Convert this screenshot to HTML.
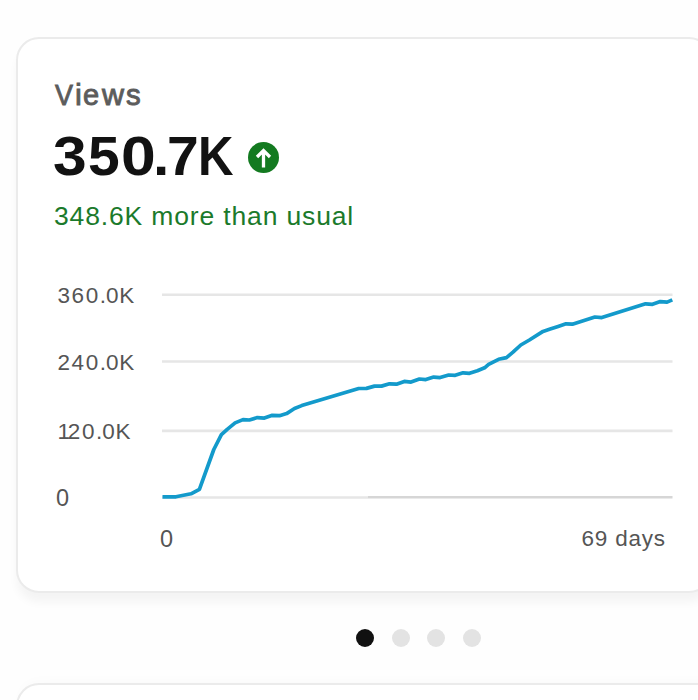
<!DOCTYPE html>
<html>
<head>
<meta charset="utf-8">
<style>
html,body{margin:0;padding:0;}
body{width:698px;height:700px;overflow:hidden;background:#fefefe;position:relative;font-family:"Liberation Sans",sans-serif;}
.card{position:absolute;left:16px;top:37px;width:696px;height:556px;background:#fff;border:2px solid #ebebeb;border-radius:23px;box-sizing:border-box;box-shadow:0 10px 10px -1px rgba(0,0,0,0.045);}
.card2{position:absolute;left:16px;top:683px;width:720px;height:300px;background:#fff;border:2px solid #ebebeb;border-radius:23px;box-sizing:border-box;box-shadow:0 -6px 12px -4px rgba(0,0,0,0.02);}
.t{position:absolute;white-space:nowrap;line-height:1;}
.gl{position:absolute;left:0;top:0;line-height:1;white-space:nowrap;}
.gl span{position:absolute;top:0;transform-origin:0 0;}
#views{top:79.6px;font-size:29.8px;font-weight:normal;color:#5c5c5c;-webkit-text-stroke:0.9px #5c5c5c;}
#big{top:127.5px;font-size:56px;font-weight:bold;color:#121212;}
#sub{left:54px;top:202.5px;font-size:26.5px;color:#1b7a2b;letter-spacing:0.85px;}
.yl{position:absolute;left:57.5px;font-size:22.5px;color:#555;letter-spacing:1.6px;line-height:1;white-space:nowrap;}
.dt{margin-right:-1.6px;}
.zk{margin-right:-1px;}
.dots{position:absolute;top:629px;left:356px;}
.dot{position:absolute;top:0;width:18px;height:18px;border-radius:50%;background:#e3e3e3;}
</style>
</head>
<body>
<div class="card"></div>
<div class="card2"></div>
<div class="gl" id="views"><span style="left:54.7px;transform:scaleX(0.904)">V</span><span style="left:75.2px;transform:scaleX(1.026)">i</span><span style="left:83.4px;transform:scaleX(0.975)">e</span><span style="left:101.8px;transform:scaleX(1.022)">w</span><span style="left:126.3px;transform:scaleX(0.986)">s</span></div>
<div class="gl" id="big"><span style="left:53.0px;transform:scaleX(1.081)">3</span><span style="left:88.1px;transform:scaleX(1.018)">5</span><span style="left:121.0px;transform:scaleX(1.115)">0</span><span style="left:153.4px;transform:scaleX(1.050)">.</span><span style="left:167.2px;transform:scaleX(1.019)">7</span><span style="left:198.3px;transform:scaleX(0.878)">K</span></div>
<svg style="position:absolute;left:0;top:0" width="698" height="700" viewBox="0 0 698 700">
  <circle cx="263.5" cy="157.5" r="15.5" fill="#137a20"/>
  <path d="M263.5 167.5 V151 M257 157 L263.5 150.5 L270 157" stroke="#fff" stroke-width="3.3" fill="none" stroke-linecap="butt" stroke-linejoin="miter"/>
</svg>
<div class="t" id="sub">348.6K more than usual</div>

<div class="yl" style="top:284.7px">360<span class="dt">.</span><span class="zk">0</span>K</div>
<div class="yl" style="top:352.2px">240<span class="dt">.</span><span class="zk">0</span>K</div>
<div class="yl" style="top:421px"><span style="margin-right:-3.8px">1</span>20<span class="dt">.</span><span class="zk">0</span>K</div>
<div class="yl" style="left:56px;top:487.2px;font-size:23.5px">0</div>
<div class="yl" style="left:160px;top:527.6px;font-size:23.5px">0</div>
<div class="yl" style="left:581.5px;top:528px;letter-spacing:0.8px">69 days</div>

<svg style="position:absolute;left:0;top:0" width="698" height="700" viewBox="0 0 698 700">
  <g stroke="#e6e6e6" stroke-width="2.6" fill="none">
    <line x1="162" y1="294.8" x2="672.5" y2="294.8"/>
    <line x1="162" y1="361.5" x2="672.5" y2="361.5"/>
    <line x1="162" y1="430.9" x2="672.5" y2="430.9"/>
    <line x1="162" y1="497.5" x2="368" y2="497.5"/>
    <line x1="368" y1="497.3" x2="672.5" y2="497.3" stroke="#d6d6d6"/>
  </g>
  <polyline fill="none" stroke="#139acb" stroke-width="3.7" stroke-linejoin="round" stroke-linecap="butt"
   points="162.5,496.8 176,496.8 191,493.8 199.4,489.4 213.8,449.5 221.4,434.6 227.2,429.4 235.1,422.9 243,419.6 249.4,420.0 257.3,417.6 264.4,418.1 272.3,415.3 279.5,415.7 286.6,413.6 294.5,408.5 301.7,405.6 358.7,388.5 366.5,388.4 374.5,386.1 381.5,386.1 389.5,383.8 396.5,384.2 404.3,381.4 411,382.1 419.4,379.0 425.8,379.6 433.7,377.1 440.1,377.6 448.7,375.0 455.2,375.3 463.1,372.8 469.5,373.3 477.4,370.7 484.6,367.8 488.6,364.4 498.6,359.3 506.5,357.6 513,352.2 520.8,345.0 529.4,340.0 543,331.4 550.2,329.0 558.1,326.4 566,323.8 572.4,324.2 594.9,317.0 601.8,317.6 645.6,303.8 652.5,304.3 660.3,301.6 667.1,302.1 672.3,299.9"/>
</svg>

<div class="dots">
  <div class="dot" style="left:0;background:#111"></div>
  <div class="dot" style="left:35.6px"></div>
  <div class="dot" style="left:71.2px"></div>
  <div class="dot" style="left:106.8px"></div>
</div>
</body>
</html>
